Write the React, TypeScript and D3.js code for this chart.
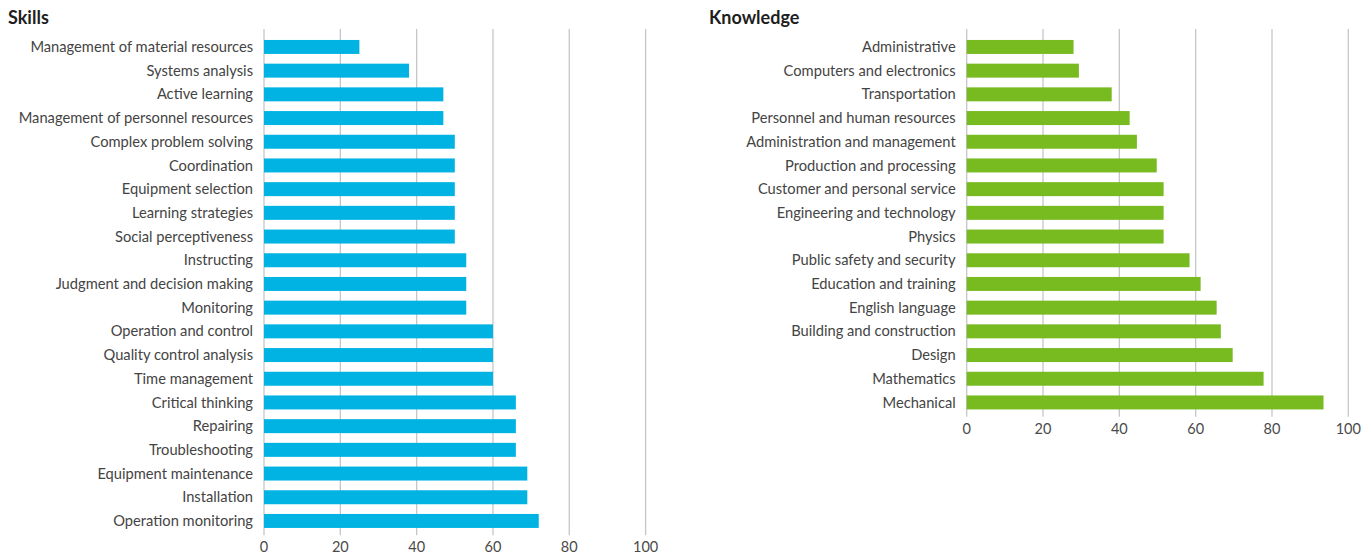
import * as d3 from "d3";
import { useCallback } from "react";

const skillNames = [
  "Management of material resources",
  "Systems analysis",
  "Active learning",
  "Management of personnel resources",
  "Complex problem solving",
  "Coordination",
  "Equipment selection",
  "Learning strategies",
  "Social perceptiveness",
  "Instructing",
  "Judgment and decision making",
  "Monitoring",
  "Operation and control",
  "Quality control analysis",
  "Time management",
  "Critical thinking",
  "Repairing",
  "Troubleshooting",
  "Equipment maintenance",
  "Installation",
  "Operation monitoring",
];
const skillValues = [25, 38, 47, 47, 50, 50, 50, 50, 50, 53, 53, 53, 60, 60, 60, 66, 66, 66, 69, 69, 72];

const knowledgeNames = [
  "Administrative",
  "Computers and electronics",
  "Transportation",
  "Personnel and human resources",
  "Administration and management",
  "Production and processing",
  "Customer and personal service",
  "Engineering and technology",
  "Physics",
  "Public safety and security",
  "Education and training",
  "English language",
  "Building and construction",
  "Design",
  "Mathematics",
  "Mechanical",
];
const knowledgeValues = [28, 29.4, 38, 42.7, 44.6, 49.8, 51.6, 51.6, 51.6, 58.4, 61.3, 65.5, 66.6, 69.7, 77.8, 93.5];

const xTicks = [0, 20, 40, 60, 80, 100];

const FONT = "Lato, 'Open Sans', sans-serif";

interface Panel {
  title: string;
  titleX: number;
  x0: number;
  names: string[];
  values: number[];
  color: string;
}

const panels: Panel[] = [
  { title: "Skills", titleX: 8, x0: 264, names: skillNames, values: skillValues, color: "#00b3e3" },
  { title: "Knowledge", titleX: 709, x0: 966.7, names: knowledgeNames, values: knowledgeValues, color: "#78bb21" },
];

export default function App() {
  const renderChart = useCallback((node: SVGSVGElement | null) => {
    if (!node) return;
    const svg = d3.select(node);
    svg.selectAll("*").remove();

    const step = 23.7;
    const top = 35.1;
    const plotW = 381.6;

    panels.forEach((p) => {
      const g = svg.append("g");
      const n = p.names.length;

      const x = d3.scaleLinear().domain([0, 100]).range([p.x0, p.x0 + plotW]);
      const y = d3
        .scaleBand<string>()
        .domain(p.names)
        .range([top, top + n * step])
        .paddingInner(0.41)
        .paddingOuter(0.205);

      const gridTop = 29;
      const gridBottom = top + n * step + 2.5;

      // title
      g.append("text")
        .attr("x", p.titleX)
        .attr("y", 24)
        .attr("font-family", FONT)
        .attr("font-weight", "bold")
        .attr("font-size", "18px")
        .attr("fill", "#1e1e1e")
        .text(p.title);

      // vertical grid
      g.selectAll("line.grid")
        .data(xTicks)
        .enter()
        .append("line")
        .attr("class", "grid")
        .attr("x1", (d) => x(d))
        .attr("x2", (d) => x(d))
        .attr("y1", gridTop)
        .attr("y2", gridBottom)
        .attr("stroke", "#c3c7cc")
        .attr("stroke-width", 1.3);

      // bars
      g.selectAll("rect")
        .data(p.values)
        .enter()
        .append("rect")
        .attr("x", x(0))
        .attr("y", (_, i) => y(p.names[i]) ?? 0)
        .attr("width", (d) => x(d) - x(0))
        .attr("height", y.bandwidth())
        .attr("fill", p.color);

      // category labels
      g.selectAll("text.cat")
        .data(p.names)
        .enter()
        .append("text")
        .attr("class", "cat")
        .attr("x", x(0) - 11)
        .attr("y", (d) => (y(d) ?? 0) + y.bandwidth() / 2)
        .attr("dy", "0.35em")
        .attr("text-anchor", "end")
        .attr("font-family", FONT)
        .attr("font-size", "14.7px")
        .attr("fill", "#444")
        .text((d) => d);

      // x tick labels
      g.selectAll("text.tick")
        .data(xTicks)
        .enter()
        .append("text")
        .attr("class", "tick")
        .attr("x", (d) => x(d))
        .attr("y", gridBottom + 12)
        .attr("dy", "0.35em")
        .attr("text-anchor", "middle")
        .attr("font-family", FONT)
        .attr("font-size", "14.5px")
        .attr("fill", "#4a4a4a")
        .text((d) => d);
    });
  }, []);

  return (
    <svg
      ref={renderChart}
      width={1371}
      height={555}
      style={{ position: "absolute", left: 0, top: 0, background: "#fff" }}
    />
  );
}
